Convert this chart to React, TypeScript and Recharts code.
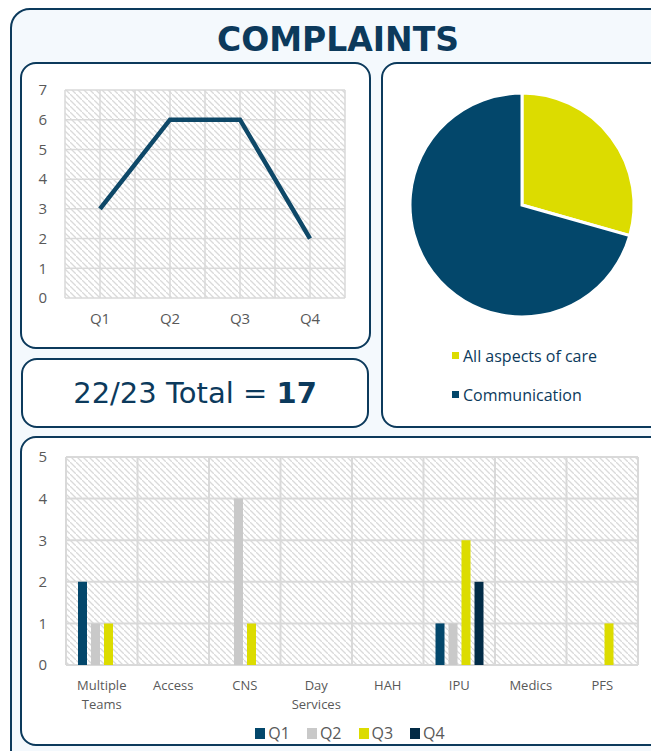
import React from "react";
import {
  Bar,
  BarChart,
  CartesianGrid,
  Cell,
  Legend,
  Line,
  LineChart,
  Pie,
  PieChart,
  XAxis,
  YAxis,
} from "recharts";

// quarterly totals
const quarters = ["Q1", "Q2", "Q3", "Q4"];
const quarterTotals = [3, 6, 6, 2];
const lineTicks = [0, 1, 2, 3, 4, 5, 6, 7];

// themes
const themes = ["All aspects of care", "Communication"];
const themeCounts = [5, 12];

// by team and quarter
const teams = ["Multiple Teams", "Access", "CNS", "Day Services", "HAH", "IPU", "Medics", "PFS"];
const q1 = [2, 0, 0, 0, 0, 1, 0, 0];
const q2 = [1, 0, 4, 0, 0, 1, 0, 0];
const q3 = [1, 0, 1, 0, 0, 3, 0, 1];
const q4 = [0, 0, 0, 0, 0, 2, 0, 0];
const barTicks = [0, 1, 2, 3, 4, 5];

const totalLabel = "22/23 Total = ";
const totalValue = 17;

const NAVY = "#0c3a5c";
const C_Q1 = "#03476b";
const C_Q2 = "#c9c9c9";
const C_Q3 = "#dcdc00";
const C_Q4 = "#022b46";
const themeColors = [C_Q3, C_Q1];
const AXIS_TEXT = "#595959";
const GRID = "#d9d9d9";
const FONT = '"Open Sans", sans-serif';

const lineData = quarters.map((q, i) => ({ quarter: q, count: quarterTotals[i] }));
const pieData = themes.map((t, i) => ({ name: t, value: themeCounts[i] }));
const barData = teams.map((t, i) => ({ team: t, Q1: q1[i], Q2: q2[i], Q3: q3[i], Q4: q4[i] }));

const panel: React.CSSProperties = {
  position: "absolute",
  boxSizing: "border-box",
  border: `2px solid ${NAVY}`,
  borderRadius: 16,
  background: "#ffffff",
  overflow: "hidden",
};

const Hatch = ({ id }: { id: string }) => (
  <defs>
    <pattern id={id} patternUnits="userSpaceOnUse" width={6} height={6}>
      <rect width={6} height={6} fill="#ffffff" />
      <path d="M-1,-1 l2,2 M0,0 l6,6 M5,5 l2,2" stroke="#dadada" strokeWidth={1.3} />
    </pattern>
  </defs>
);

const TeamTick = ({ x, y, payload }: any) => {
  const words = String(payload.value).split(" ");
  return (
    <text x={x} y={y} textAnchor="middle" fill={AXIS_TEXT} fontSize={13} fontFamily={FONT}>
      {words.map((w, i) => (
        <tspan key={i} x={x} dy={i === 0 ? 25 : 19}>
          {w}
        </tspan>
      ))}
    </text>
  );
};

const PieLegend = ({ payload }: any) => (
  <div style={{ fontFamily: FONT }}>
    {(payload || []).map((entry: any, i: number) => (
      <div key={i} style={{ display: "flex", alignItems: "center", height: 39, fontSize: 16, color: NAVY }}>
        <span style={{ display: "inline-block", width: 7, height: 7, background: entry.color, marginRight: 4 }} />
        {entry.value}
      </div>
    ))}
  </div>
);

const QuarterLegend = ({ payload }: any) => (
  <div style={{ display: "flex", justifyContent: "center", fontFamily: FONT, fontSize: 16, color: AXIS_TEXT }}>
    {(payload || []).map((entry: any, i: number) => (
      <div key={i} style={{ display: "flex", alignItems: "center", marginLeft: i === 0 ? 0 : 17 }}>
        <span style={{ display: "inline-block", width: 10, height: 11, background: entry.color, marginRight: 3 }} />
        {entry.value}
      </div>
    ))}
  </div>
);

export default function App() {
  return (
    <div style={{ position: "fixed", left: 0, top: 0, width: 651, height: 751, overflow: "hidden", fontFamily: FONT, background: "#ffffff" }}>
      <div
        style={{
          position: "absolute",
          left: 10,
          top: 8,
          width: 690,
          height: 790,
          boxSizing: "border-box",
          border: `2px solid ${NAVY}`,
          borderRadius: 20,
          background: "#f4f9fd",
        }}
      />
      <div
        style={{
          position: "absolute",
          left: 0,
          top: 24,
          width: 676,
          textAlign: "center",
          fontFamily: '"DejaVu Sans", sans-serif',
          fontWeight: "bold",
          fontSize: 33,
          lineHeight: "32px",
          color: NAVY,
        }}
      >
        COMPLAINTS
      </div>

      <div style={{ ...panel, left: 20, top: 62, width: 351, height: 287 }}>
        <LineChart width={347} height={283} data={lineData} margin={{ top: 26, right: 24, left: 0, bottom: 0 }}>
          <Hatch id="hatchLine" />
          <CartesianGrid
            stroke={GRID}
            strokeWidth={1.5}
            fill="url(#hatchLine)"
            fillOpacity={1}
            verticalCoordinatesGenerator={({ offset }: any) =>
              Array.from({ length: quarters.length * 2 + 1 }, (_, i) => offset.left + (i * offset.width) / (quarters.length * 2))
            }
          />
          <XAxis
            dataKey="quarter"
            padding={{ left: 35, right: 35 }}
            axisLine={false}
            tickLine={false}
            tickSize={0}
            tickMargin={15}
            height={49}
            tick={{ fill: AXIS_TEXT, fontSize: 15, fontFamily: FONT }}
          />
          <YAxis
            domain={[0, 7]}
            ticks={lineTicks}
            interval={0}
            axisLine={false}
            tickLine={false}
            tickSize={0}
            tickMargin={18}
            width={43}
            tick={{ fill: AXIS_TEXT, fontSize: 15, fontFamily: FONT }}
          />
          <Line
            dataKey="count"
            stroke="#0e4868"
            strokeWidth={4.5}
            dot={false}
            activeDot={false}
            isAnimationActive={false}
          />
        </LineChart>
      </div>

      <div
        style={{
          ...panel,
          left: 21,
          top: 358,
          width: 348,
          height: 70,
          display: "flex",
          alignItems: "center",
          justifyContent: "center",
          fontFamily: '"DejaVu Sans", sans-serif',
          fontSize: 29,
          color: NAVY,
          whiteSpace: "pre",
        }}
      >
        {totalLabel}
        <b>{totalValue}</b>
      </div>

      <div style={{ ...panel, left: 381, top: 62, width: 300, height: 366 }}>
        <PieChart width={280} height={362} margin={{ top: 0, right: 0, bottom: 0, left: 0 }}>
          <Pie
            data={pieData}
            dataKey="value"
            nameKey="name"
            cx={139}
            cy={141}
            outerRadius={112}
            startAngle={90}
            endAngle={-270}
            stroke="#ffffff"
            strokeWidth={3}
            isAnimationActive={false}
          >
            {pieData.map((d, i) => (
              <Cell key={d.name} fill={themeColors[i]} />
            ))}
          </Pie>
          <Legend
            layout="horizontal"
            verticalAlign="bottom"
            content={PieLegend}
            wrapperStyle={{ left: 69, top: 272, bottom: "auto", width: 200 }}
          />
        </PieChart>
      </div>

      <div style={{ ...panel, left: 20, top: 436, width: 690, height: 310 }}>
        <BarChart
          width={656}
          height={306}
          data={barData}
          barSize={9}
          barGap={4}
          margin={{ top: 19, right: 40, left: 0, bottom: 0 }}
        >
          <Hatch id="hatchBar" />
          <CartesianGrid
            stroke={GRID}
            strokeWidth={2}
            fill="url(#hatchBar)"
            fillOpacity={1}
            verticalCoordinatesGenerator={({ offset }: any) =>
              Array.from({ length: teams.length + 1 }, (_, i) => offset.left + (i * offset.width) / teams.length)
            }
          />
          <XAxis
            dataKey="team"
            axisLine={false}
            tickLine={false}
            tickSize={0}
            tickMargin={0}
            height={57}
            interval={0}
            tick={<TeamTick />}
          />
          <YAxis
            domain={[0, 5]}
            ticks={barTicks}
            interval={0}
            axisLine={false}
            tickLine={false}
            tickSize={0}
            tickMargin={19}
            width={44}
            tick={{ fill: AXIS_TEXT, fontSize: 15, fontFamily: FONT }}
          />
          <Legend
            verticalAlign="bottom"
            content={QuarterLegend}
            wrapperStyle={{ left: 0, width: 656 }}
          />
          <Bar dataKey="Q1" fill={C_Q1} isAnimationActive={false} />
          <Bar dataKey="Q2" fill={C_Q2} isAnimationActive={false} />
          <Bar dataKey="Q3" fill={C_Q3} isAnimationActive={false} />
          <Bar dataKey="Q4" fill={C_Q4} isAnimationActive={false} />
        </BarChart>
      </div>
    </div>
  );
}
